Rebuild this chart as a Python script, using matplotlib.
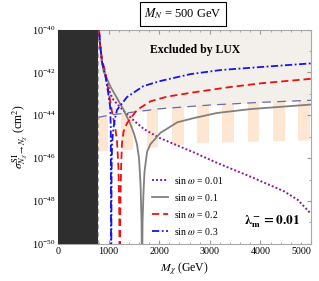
import matplotlib
matplotlib.use('Agg')
import matplotlib.pyplot as plt
import numpy as np
from matplotlib.ticker import FixedLocator, AutoMinorLocator, NullFormatter

plt.rcParams.update({
    'font.family': 'Liberation Serif',
    'mathtext.fontset': 'stix',
    'font.size': 7,
})

# ── data (M_chi in GeV, sigma as log10 cm^2) ──
m_black = 790
lux_m = [790, 1000, 2000, 3000, 4000, 5000]
lux_sig = [7.9e-45, 1.0e-44, 2.0e-44, 3.0e-44, 4.0e-44, 5.0e-44]

proj_m = [790, 1500, 2250, 2750, 3250, 4000, 5000]
proj_log = [-45.7, -45.6, -45.43, -45.3, -45.27, -45.22, -45.18]
stripe_starts = [750, 1250, 1750, 2250, 2750, 3250, 3750, 4250, 4750]
stripe_width = 230

m_001 = [790, 833, 867, 920, 966, 1032, 1100, 1300, 1500, 1700, 2000, 2400, 2700,
         3150, 3800, 4470, 4740, 4900, 4980]
log_001 = [-39.5, -40.75, -41.5, -42.0, -42.4, -43.0, -43.3, -43.8, -44.25, -44.65,
           -45.05, -45.45, -45.75, -46.23, -46.86, -47.55, -47.95, -48.35, -48.55]

m_01 = [790, 833, 867, 900, 950, 1032, 1165, 1296, 1428, 1500, 1560, 1600, 1630, 1650,
        1660, 1670, 1690, 1710, 1760, 1825, 2024, 2355, 2684, 3149, 3810, 5000]
log_01 = [-39.5, -40.75, -41.5, -41.95, -42.2, -42.65, -43.2, -43.75, -44.4, -44.85,
          -45.35, -46.0, -47.2, -49.0, -52, -49.0, -47.5, -46.6, -45.7, -45.35, -44.82,
          -44.33, -44.13, -43.89, -43.71, -43.50]

m_02 = [790, 833, 867, 933, 998, 1065, 1131, 1165, 1195, 1210, 1220, 1230, 1245, 1263,
        1296, 1363, 1561, 1693, 1825, 2157, 2684, 3347, 4008, 5000]
log_02 = [-39.5, -40.73, -41.4, -41.97, -42.9, -43.83, -44.6, -45.2, -46.5, -48.5, -52,
          -48.5, -46.5, -45.3, -44.75, -44.37, -43.75, -43.55, -43.35, -43.13, -42.93,
          -42.70, -42.51, -42.30]

m_03 = [790, 833, 867, 933, 998, 1032, 1042, 1050, 1058, 1068, 1094, 1130, 1165, 1363,
        1686, 2024, 2619, 3214, 4008, 5000]
log_03 = [-39.5, -40.75, -41.5, -42.13, -43.06, -43.66, -44.6, -52, -46.5, -45.3, -44.6,
          -44.1, -43.75, -43.15, -42.64, -42.40, -42.08, -41.89, -41.75, -41.58]

fig = plt.figure(figsize=(3.19, 2.81), dpi=100)
ax = fig.add_axes([0.182, 0.132, 0.793, 0.763])

# excluded region and projected stripes
ax.fill_between(lux_m, lux_sig, 1e-40, color='#f3efea', lw=0, zorder=0)
poly = ax.fill_between(proj_m, 10 ** np.array(proj_log),
                       np.interp(proj_m, lux_m, lux_sig) * 0.98,
                       color='none', lw=0)
for s in stripe_starts:
    sp = ax.axvspan(max(s, m_black), s + stripe_width, color='#fde6d2', lw=0, zorder=0.5)
    sp.set_clip_path(poly.get_paths()[0], transform=ax.transData)

ax.plot(lux_m, lux_sig, color='#6b6ba8', lw=0.9, ls=(0, (7, 5)), zorder=2)

ax.axvspan(0, m_black, color='#2e2e2e', lw=0, zorder=3)
ax.axvline(m_black, color='#aaaaaa', lw=0.8, ls=(0, (4, 3)), zorder=3.5)

ax.plot(m_001, 10 ** np.array(log_001), color='#8b1a99', lw=1.4, ls=(0, (1, 1.1)),
        label=r'sin $\omega$ = 0.01', zorder=4)
ax.plot(m_01, 10 ** np.array(log_01), color='#808080', lw=1.3, ls='-',
        label=r'sin $\omega$ = 0.1', zorder=4)
ax.plot(m_02, 10 ** np.array(log_02), color='#f01010', lw=1.3, ls=(0, (4, 2.2)),
        label=r'sin $\omega$ = 0.2', zorder=4)
ax.plot(m_03, 10 ** np.array(log_03), color='#1515f0', lw=1.3, ls=(0, (4, 1.4, 1, 1.4)),
        label=r'sin $\omega$ = 0.3', zorder=4)

ax.set_yscale('log')
ax.set_xlim(0, 5000)
ax.set_ylim(1e-50, 1e-40)
ax.yaxis.set_major_locator(FixedLocator([10.0 ** e for e in range(-50, -39, 2)]))
ax.yaxis.set_minor_locator(FixedLocator([10.0 ** e for e in range(-49, -40, 2)]))
ax.yaxis.set_minor_formatter(NullFormatter())
ax.set_xticks([0, 1000, 2000, 3000, 4000, 5000])
ax.xaxis.set_minor_locator(AutoMinorLocator(5))

for sp_ in ax.spines.values():
    sp_.set_color('#a8a8a8')
    sp_.set_linewidth(0.8)
ax.tick_params(which='both', direction='in', top=True, right=True, color='#999999')
ax.tick_params(axis='x', labelsize=7.2, pad=2)
ax.tick_params(axis='y', labelsize=7.5, pad=2)
ax.tick_params(which='major', length=3)
ax.tick_params(which='minor', length=1.6)
# keep the last x label inside the figure
ax.get_xticklabels()[-1].set_horizontalalignment('right')

ax.set_xlabel(r'$M_\chi$ (GeV)', fontsize=8.5, labelpad=3)
ax.set_ylabel(r'$\sigma^{\rm SI}_{N_\chi \to N_\chi}$ (cm$^2$)', fontsize=8.5, labelpad=1)

ax.text(2700, 1.1e-41, 'Excluded by LUX', fontsize=8.5, fontweight='bold',
        ha='center', va='center', zorder=5)
ax.text(3680, 1.1e-49, r'$\mathbf{\lambda_m^- = 0.01}$', fontsize=9.5,
        ha='left', va='center', zorder=5)

ax.legend(loc='upper left', bbox_to_anchor=(0.345, 0.355), frameon=False, fontsize=7,
          handlelength=1.6, handletextpad=0.6, labelspacing=0.62, borderaxespad=0.3)

fig.text(0.573, 0.95, r'$M_N$ = 500 GeV', fontsize=9, ha='center', va='center',
         bbox=dict(boxstyle='square,pad=0.35', fc='white', ec='black', lw=0.8))

fig.savefig('out.png', dpi=100)
